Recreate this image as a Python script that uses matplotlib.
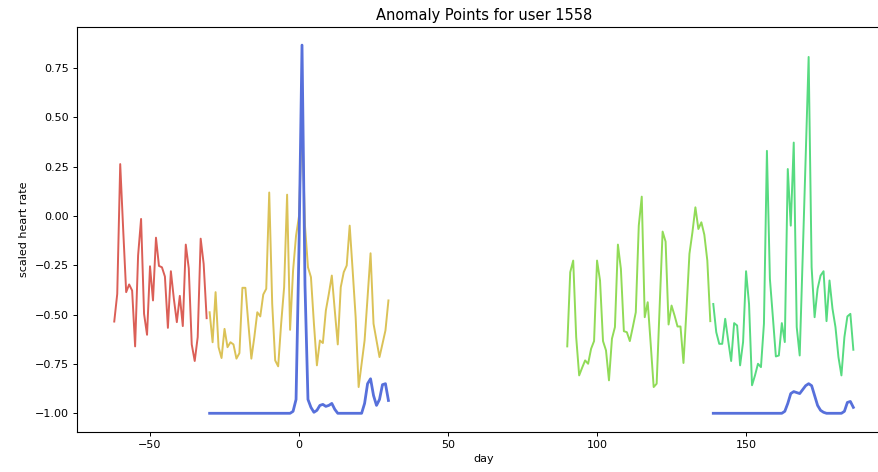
import numpy as np
import matplotlib
matplotlib.use("Agg")
import matplotlib.pyplot as plt

# ---- data ----
red_days = list(range(-62, -30))
red_vals = [-0.535, -0.395, 0.263, -0.07, -0.386, -0.347, -0.378, -0.661, -0.2, -0.015,
            -0.496, -0.602, -0.255, -0.428, -0.110, -0.253, -0.26, -0.307, -0.567, -0.280,
            -0.420, -0.538, -0.405, -0.558, -0.145, -0.265, -0.651, -0.735, -0.614, -0.115,
            -0.243, -0.518]

yellow_days = list(range(-30, 31))
yellow_vals = [-0.488, -0.64, -0.386, -0.665, -0.72, -0.572, -0.665, -0.64, -0.651, -0.723,
               -0.695, -0.364, -0.364, -0.546, -0.723, -0.614, -0.488, -0.509, -0.398, -0.369,
               0.119, -0.445, -0.732, -0.762, -0.546, -0.361, 0.108, -0.577, -0.277, -0.1,
               0.0, 0.5, -0.05, -0.26, -0.31, -0.546, -0.757, -0.631, -0.644, -0.479,
               -0.395, -0.302, -0.479, -0.651, -0.361, -0.285, -0.251, -0.049, -0.277, -0.513,
               -0.867, -0.749, -0.631, -0.412, -0.189, -0.546, -0.631, -0.715, -0.648, -0.58,
               -0.428]

green1_days = list(range(90, 139))
green1_vals = [-0.661, -0.285, -0.226, -0.614, -0.808, -0.769, -0.732, -0.749, -0.673, -0.634,
               -0.226, -0.327, -0.634, -0.681, -0.833, -0.622, -0.563, -0.145, -0.268, -0.584,
               -0.589, -0.634, -0.563, -0.488, -0.049, 0.098, -0.513, -0.437, -0.648, -0.867,
               -0.85, -0.462, -0.079, -0.13, -0.55, -0.454, -0.504, -0.56, -0.56, -0.745,
               -0.479, -0.192, -0.083, 0.044, -0.066, -0.032, -0.095, -0.226, -0.533]

green2_days = list(range(139, 187))
green2_vals = [-0.446, -0.589, -0.648, -0.648, -0.521, -0.631, -0.735, -0.543, -0.555, -0.757,
               -0.639, -0.28, -0.446, -0.858, -0.808, -0.749, -0.766, -0.546, 0.33, -0.319,
               -0.513, -0.712, -0.707, -0.543, -0.639, 0.238, -0.049, 0.372, -0.563, -0.707,
               -0.209, 0.296, 0.806, -0.26, -0.513, -0.369, -0.302, -0.28, -0.533, -0.327,
               -0.47, -0.563, -0.715, -0.808, -0.614, -0.509, -0.496, -0.678]

blue1_days = list(range(-30, 31))
blue1_vals = [-1.0] * 28 + [-0.99, -0.93, -0.15, 0.866, -0.35, -0.93, -0.97, -0.995, -0.985,
                            -0.96, -0.955, -0.965, -0.96, -0.95, -0.98, -1.0] + [-1.0] * 8 + \
             [-0.95, -0.85, -0.825, -0.91, -0.96, -0.93, -0.855, -0.85, -0.935]

blue2_days = list(range(139, 187))
blue2_vals = [-1.0] * 24 + [-0.99, -0.95, -0.9, -0.89, -0.895, -0.9, -0.88, -0.86, -0.85,
                            -0.86, -0.91, -0.96, -0.985, -0.995] + [-1.0] * 6 + \
             [-0.99, -0.945, -0.94, -0.97]

colors = {"red": "#db5f57", "yellow": "#dbc257", "green1": "#91db57",
          "green2": "#57db80", "blue": "#5770db"}

# ---- figure ----
fig = plt.figure(figsize=(8.79, 4.72), dpi=100)
ax = fig.add_axes([77.3 / 879, 40.3 / 472, 813 / 879, 405 / 472])

ax.plot(red_days, red_vals, color=colors["red"], lw=1.4)
ax.plot(yellow_days, yellow_vals, color=colors["yellow"], lw=1.4)
ax.plot(green1_days, green1_vals, color=colors["green1"], lw=1.4)
ax.plot(green2_days, green2_vals, color=colors["green2"], lw=1.4)
ax.plot(blue1_days, blue1_vals, color=colors["blue"], lw=2.0)
ax.plot(blue2_days, blue2_vals, color=colors["blue"], lw=2.0)

ax.set_title("Anomaly Points for user 1558", fontsize=10.5, pad=5)
ax.set_xlabel("day", fontsize=8, labelpad=3)
ax.set_ylabel("scaled heart rate", fontsize=8, labelpad=4)
ax.set_yticks([-1.0, -0.75, -0.5, -0.25, 0.0, 0.25, 0.5, 0.75])
ax.set_xticks([-50, 0, 50, 100, 150])
ax.tick_params(labelsize=8, length=3, width=0.7, pad=3)
for s in ax.spines.values():
    s.set_linewidth(0.8)

fig.savefig("out.png", dpi=100)
